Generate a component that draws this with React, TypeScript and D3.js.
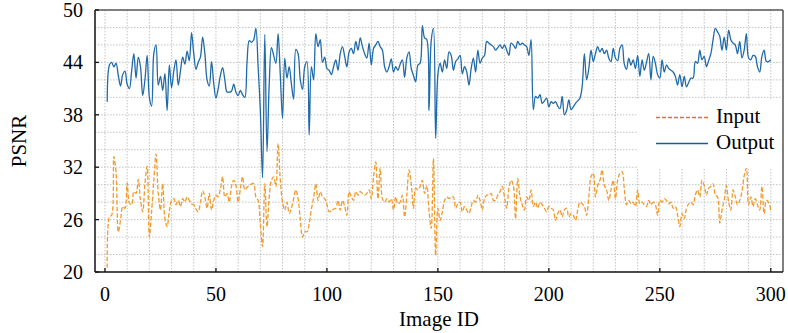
import React from 'react';
import * as d3 from 'd3';

const width = 788;
const height = 333;
const margin = { top: 10, right: 5, bottom: 61, left: 95 };
const blue = '#1f6aa8';
const orange = '#f39a2c';
const font = '"Liberation Serif", "Times New Roman", serif';

// PSNR per image, ids 1..300
const outputPsnr = [
  39.5, 43.7, 44.0, 43.5, 43.9, 42.5, 41.3, 42.6, 43.0, 41.5,
  41.0, 43.0, 45.0, 42.2, 44.6, 43.5, 40.2, 42.0, 44.8, 40.0,
  39.0, 45.0, 46.0, 41.4, 42.4, 40.8, 42.7, 38.5, 43.7, 41.1,
  43.0, 44.3, 41.4, 43.0, 44.6, 43.8, 45.3, 44.2, 47.4, 45.0,
  43.2, 44.0, 44.6, 46.9, 45.0, 42.0, 41.3, 44.1, 41.6, 39.9,
  41.0, 42.5, 43.4, 42.0, 40.6, 40.6, 40.7, 41.5, 40.6, 40.2,
  40.8, 40.3, 40.0, 44.0, 46.5, 46.3, 46.6, 47.9, 43.5, 38.5,
  30.8, 47.2, 33.8, 41.5, 45.7, 44.8, 43.9, 47.3, 42.5, 37.6,
  44.5, 42.2, 43.5, 41.5, 39.8, 45.5, 45.0, 42.0, 40.9, 43.5,
  44.1, 35.7, 43.5, 42.0, 47.3, 45.8, 46.6, 44.0, 44.6, 43.3,
  43.1, 42.6, 43.5, 44.3, 43.1, 45.0, 45.8, 44.7, 43.5, 45.2,
  45.6, 45.0, 46.4, 45.4, 46.8, 45.8, 45.0, 44.5, 46.2, 43.7,
  45.6, 46.0, 46.4, 45.8, 45.4, 43.5, 42.9, 43.5, 44.4, 42.9,
  43.5, 43.1, 43.8, 44.3, 42.3, 44.5, 45.2, 43.3, 42.5, 41.8,
  43.7, 43.9, 48.2, 46.8, 46.6, 38.5, 46.5, 47.9, 35.3, 42.6,
  43.9, 42.9, 44.3, 43.3, 45.2, 44.8, 43.1, 44.1, 44.4, 44.8,
  42.7, 43.5, 42.9, 41.4, 43.3, 44.5, 42.9, 45.4, 43.9, 44.5,
  44.8, 46.4, 46.2, 46.0, 45.8, 45.4, 45.7, 46.0, 45.6, 46.0,
  45.4, 44.8, 46.2, 46.0, 45.6, 46.4, 46.0, 46.2, 46.0, 45.8,
  44.8, 46.6, 38.6, 40.1, 39.9, 40.3, 39.3, 39.6, 39.9, 38.9,
  39.5, 39.3, 39.5, 39.0, 38.7, 40.1, 38.0, 38.5, 39.7, 38.6,
  38.9, 39.3, 39.6, 39.9, 41.2, 45.0, 42.0, 43.3, 45.4, 44.1,
  45.0, 45.8, 45.2, 45.6, 45.0, 45.4, 44.5, 44.1, 45.6, 44.5,
  44.2, 45.6, 46.0, 43.8, 43.2, 44.5, 43.7, 44.3, 43.3, 44.8,
  42.4, 44.3, 43.1, 44.0, 45.0, 42.0, 44.7, 43.9, 42.6, 42.2,
  44.3, 42.9, 43.7, 43.3, 43.1, 42.9, 42.4, 41.4, 42.6, 41.2,
  42.4, 41.2, 41.7, 42.2, 42.2, 44.1, 43.9, 45.4, 44.3, 44.7,
  43.5, 44.2, 45.0, 46.6, 47.9, 47.5, 47.0, 45.4, 46.9, 45.4,
  47.7, 46.6, 46.2, 46.0, 45.0, 46.4, 44.5, 45.4, 47.3, 44.5,
  44.3, 44.8, 44.7, 43.5, 42.9, 44.7, 45.4, 44.1, 44.1, 44.3
];

const inputPsnr = [
  20.5, 26.3, 26.5, 33.2, 31.3, 24.6, 25.9, 27.5, 27.3, 30.2,
  27.9, 27.7, 29.2, 29.0, 30.6, 28.2, 26.9, 30.1, 32.1, 24.0,
  26.9, 30.5, 33.5, 29.0, 27.1, 30.1, 26.1, 25.2, 27.0, 28.2,
  28.4, 27.7, 28.2, 27.5, 28.4, 28.0, 28.6, 28.2, 27.8, 27.7,
  27.2, 26.9, 28.0, 29.3, 28.6, 27.3, 29.0, 27.1, 28.2, 28.8,
  28.6, 29.5, 30.9, 28.6, 29.0, 28.0, 29.8, 30.5, 29.9, 28.0,
  29.5, 30.9, 29.4, 29.7, 29.9, 30.1, 30.1, 28.6, 28.2, 25.5,
  22.9, 30.1, 25.2, 28.6, 30.5, 30.9, 29.8, 34.7, 30.5, 28.0,
  27.1, 28.0, 26.7, 27.3, 28.4, 29.4, 28.4, 26.0, 24.0, 24.6,
  24.6, 25.5, 27.2, 28.5, 30.1, 28.2, 29.2, 28.6, 28.4, 27.7,
  26.9, 27.0, 27.2, 27.3, 28.2, 27.1, 28.2, 27.5, 26.5, 29.2,
  28.6, 28.2, 29.2, 28.8, 29.2, 29.0, 28.8, 29.0, 29.4, 28.4,
  30.9, 32.6, 28.4, 31.9, 28.4, 28.0, 28.4, 28.0, 28.4, 27.1,
  28.6, 27.8, 28.0, 28.8, 26.3, 28.8, 31.7, 30.1, 27.3, 29.6,
  29.4, 29.8, 30.5, 29.0, 29.9, 27.0, 25.0, 33.0, 21.9, 27.3,
  25.9, 26.9, 28.2, 28.6, 28.4, 28.6, 28.6, 27.3, 27.8, 28.0,
  26.9, 27.5, 27.1, 26.7, 27.5, 28.2, 28.0, 28.8, 28.2, 27.1,
  28.4, 28.8, 28.8, 29.0, 28.2, 28.2, 28.8, 29.2, 29.8, 28.6,
  27.3, 29.6, 30.5, 29.9, 26.1, 30.7, 28.6, 27.7, 27.1, 28.6,
  28.2, 29.4, 27.5, 28.0, 27.3, 28.0, 27.7, 27.3, 26.9, 27.5,
  27.3, 27.1, 25.9, 26.7, 27.1, 26.3, 27.1, 27.3, 26.3, 26.7,
  26.5, 25.9, 27.1, 28.0, 27.8, 27.5, 26.5, 28.6, 30.9, 31.3,
  28.6, 29.9, 30.5, 31.7, 29.9, 29.4, 28.2, 29.4, 30.5, 28.4,
  30.5, 31.3, 31.5, 29.5, 27.7, 28.2, 27.8, 28.0, 27.5, 29.4,
  27.8, 28.0, 27.7, 27.5, 28.2, 27.7, 28.0, 27.7, 26.5, 28.2,
  28.0, 28.4, 28.2, 27.8, 28.0, 27.3, 27.5, 26.5, 25.2, 26.7,
  26.1, 27.3, 27.8, 28.0, 27.7, 28.8, 29.4, 28.6, 30.5, 29.9,
  28.8, 29.6, 29.8, 30.1, 28.8, 28.6, 25.6, 27.1, 28.2, 29.9,
  28.0, 27.1, 29.4, 28.6, 27.7, 28.2, 29.2, 31.0, 31.9, 27.7,
  28.6, 27.5, 28.4, 27.7, 27.1, 29.8, 26.7, 28.2, 28.0, 27.1
];

const xTicks = [0, 50, 100, 150, 200, 250, 300];
const yTicks = [20, 26, 32, 38, 44, 50];
const xGrid = d3.range(0, 301, 10);
const yGrid = d3.range(22, 50, 2);
const seriesNames = ['Input', 'Output'];

const x = d3
  .scaleLinear()
  .domain([-4.5, 305.5])
  .range([margin.left, width - margin.right]);
const y = d3
  .scaleLinear()
  .domain([20, 50])
  .range([height - margin.bottom, margin.top]);

// smooth spline through the points, like the original plot
const line = d3
  .line<number>()
  .x((d, i) => x(i + 1))
  .y(d => y(d))
  .curve(d3.curveCatmullRom.alpha(0.5));

export default function App() {
  const left = margin.left;
  const right = width - margin.right;
  const top = margin.top;
  const bottom = height - margin.bottom;

  return (
    <svg
      width={width}
      height={height}
      style={{ position: 'absolute', left: 0, top: 0, background: '#fff' }}
      fontFamily={font}
    >
      <defs>
        <clipPath id="plot">
          <rect x={left} y={top} width={right - left} height={bottom - top} />
        </clipPath>
      </defs>

      {/* grid */}
      {xGrid.map(t => (
        <line key={'gx' + t} x1={x(t)} x2={x(t)} y1={top} y2={bottom}
          stroke="#b5b5b5" strokeWidth={0.8} strokeDasharray="1.5,1.5" />
      ))}
      {yGrid.map(t => (
        <line key={'gy' + t} x1={left} x2={right} y1={y(t)} y2={y(t)}
          stroke="#b5b5b5" strokeWidth={0.8} strokeDasharray="1.5,1.5" />
      ))}

      {/* series */}
      <g clipPath="url(#plot)">
        <path d={line(inputPsnr) || ''} fill="none" stroke={orange}
          strokeWidth={1.3} strokeDasharray="4.5,2" />
        <path d={line(outputPsnr) || ''} fill="none" stroke={blue} strokeWidth={1.3} />
      </g>

      {/* legend */}
      <rect x={637} y={99} width={145} height={69} fill="#fff" />
      <line x1={656} x2={708} y1={117.5} y2={117.5} stroke="#f2662a"
        strokeWidth={1.5} strokeDasharray="4,2" />
      <text x={716} y={123} fontSize={21}>{seriesNames[0]}</text>
      <line x1={656} x2={708} y1={143.5} y2={143.5} stroke="#1a5c94" strokeWidth={1.5} />
      <text x={716} y={149} fontSize={21}>{seriesNames[1]}</text>

      {/* frame */}
      <line x1={left} x2={right} y1={top} y2={top} stroke="#555" strokeWidth={1.5} />
      <line x1={right} x2={right} y1={top} y2={bottom} stroke="#555" strokeWidth={1.5} />
      <line x1={left} x2={right} y1={bottom} y2={bottom} stroke="#111" strokeWidth={1.5} />
      <line x1={left} x2={left} y1={top} y2={bottom} stroke="#111" strokeWidth={1.5} />

      {/* x axis */}
      {xTicks.map(t => (
        <g key={'xt' + t}>
          <line x1={x(t)} x2={x(t)} y1={bottom} y2={bottom - 4} stroke="#111" strokeWidth={1.3} />
          <text x={x(t)} y={bottom + 29} fontSize={20} textAnchor="middle">{t}</text>
        </g>
      ))}
      {/* y axis */}
      {yTicks.map(t => (
        <g key={'yt' + t}>
          <line x1={left} x2={left + 4} y1={y(t)} y2={y(t)} stroke="#111" strokeWidth={1.3} />
          <text x={83} y={y(t)} dy="0.35em" fontSize={20} textAnchor="end">{t}</text>
        </g>
      ))}

      <text x={(left + right) / 2} y={326} fontSize={21} textAnchor="middle">Image ID</text>
      <text transform={`translate(26, ${(top + bottom) / 2}) rotate(-90)`}
        fontSize={21} textAnchor="middle">PSNR</text>
    </svg>
  );
}
